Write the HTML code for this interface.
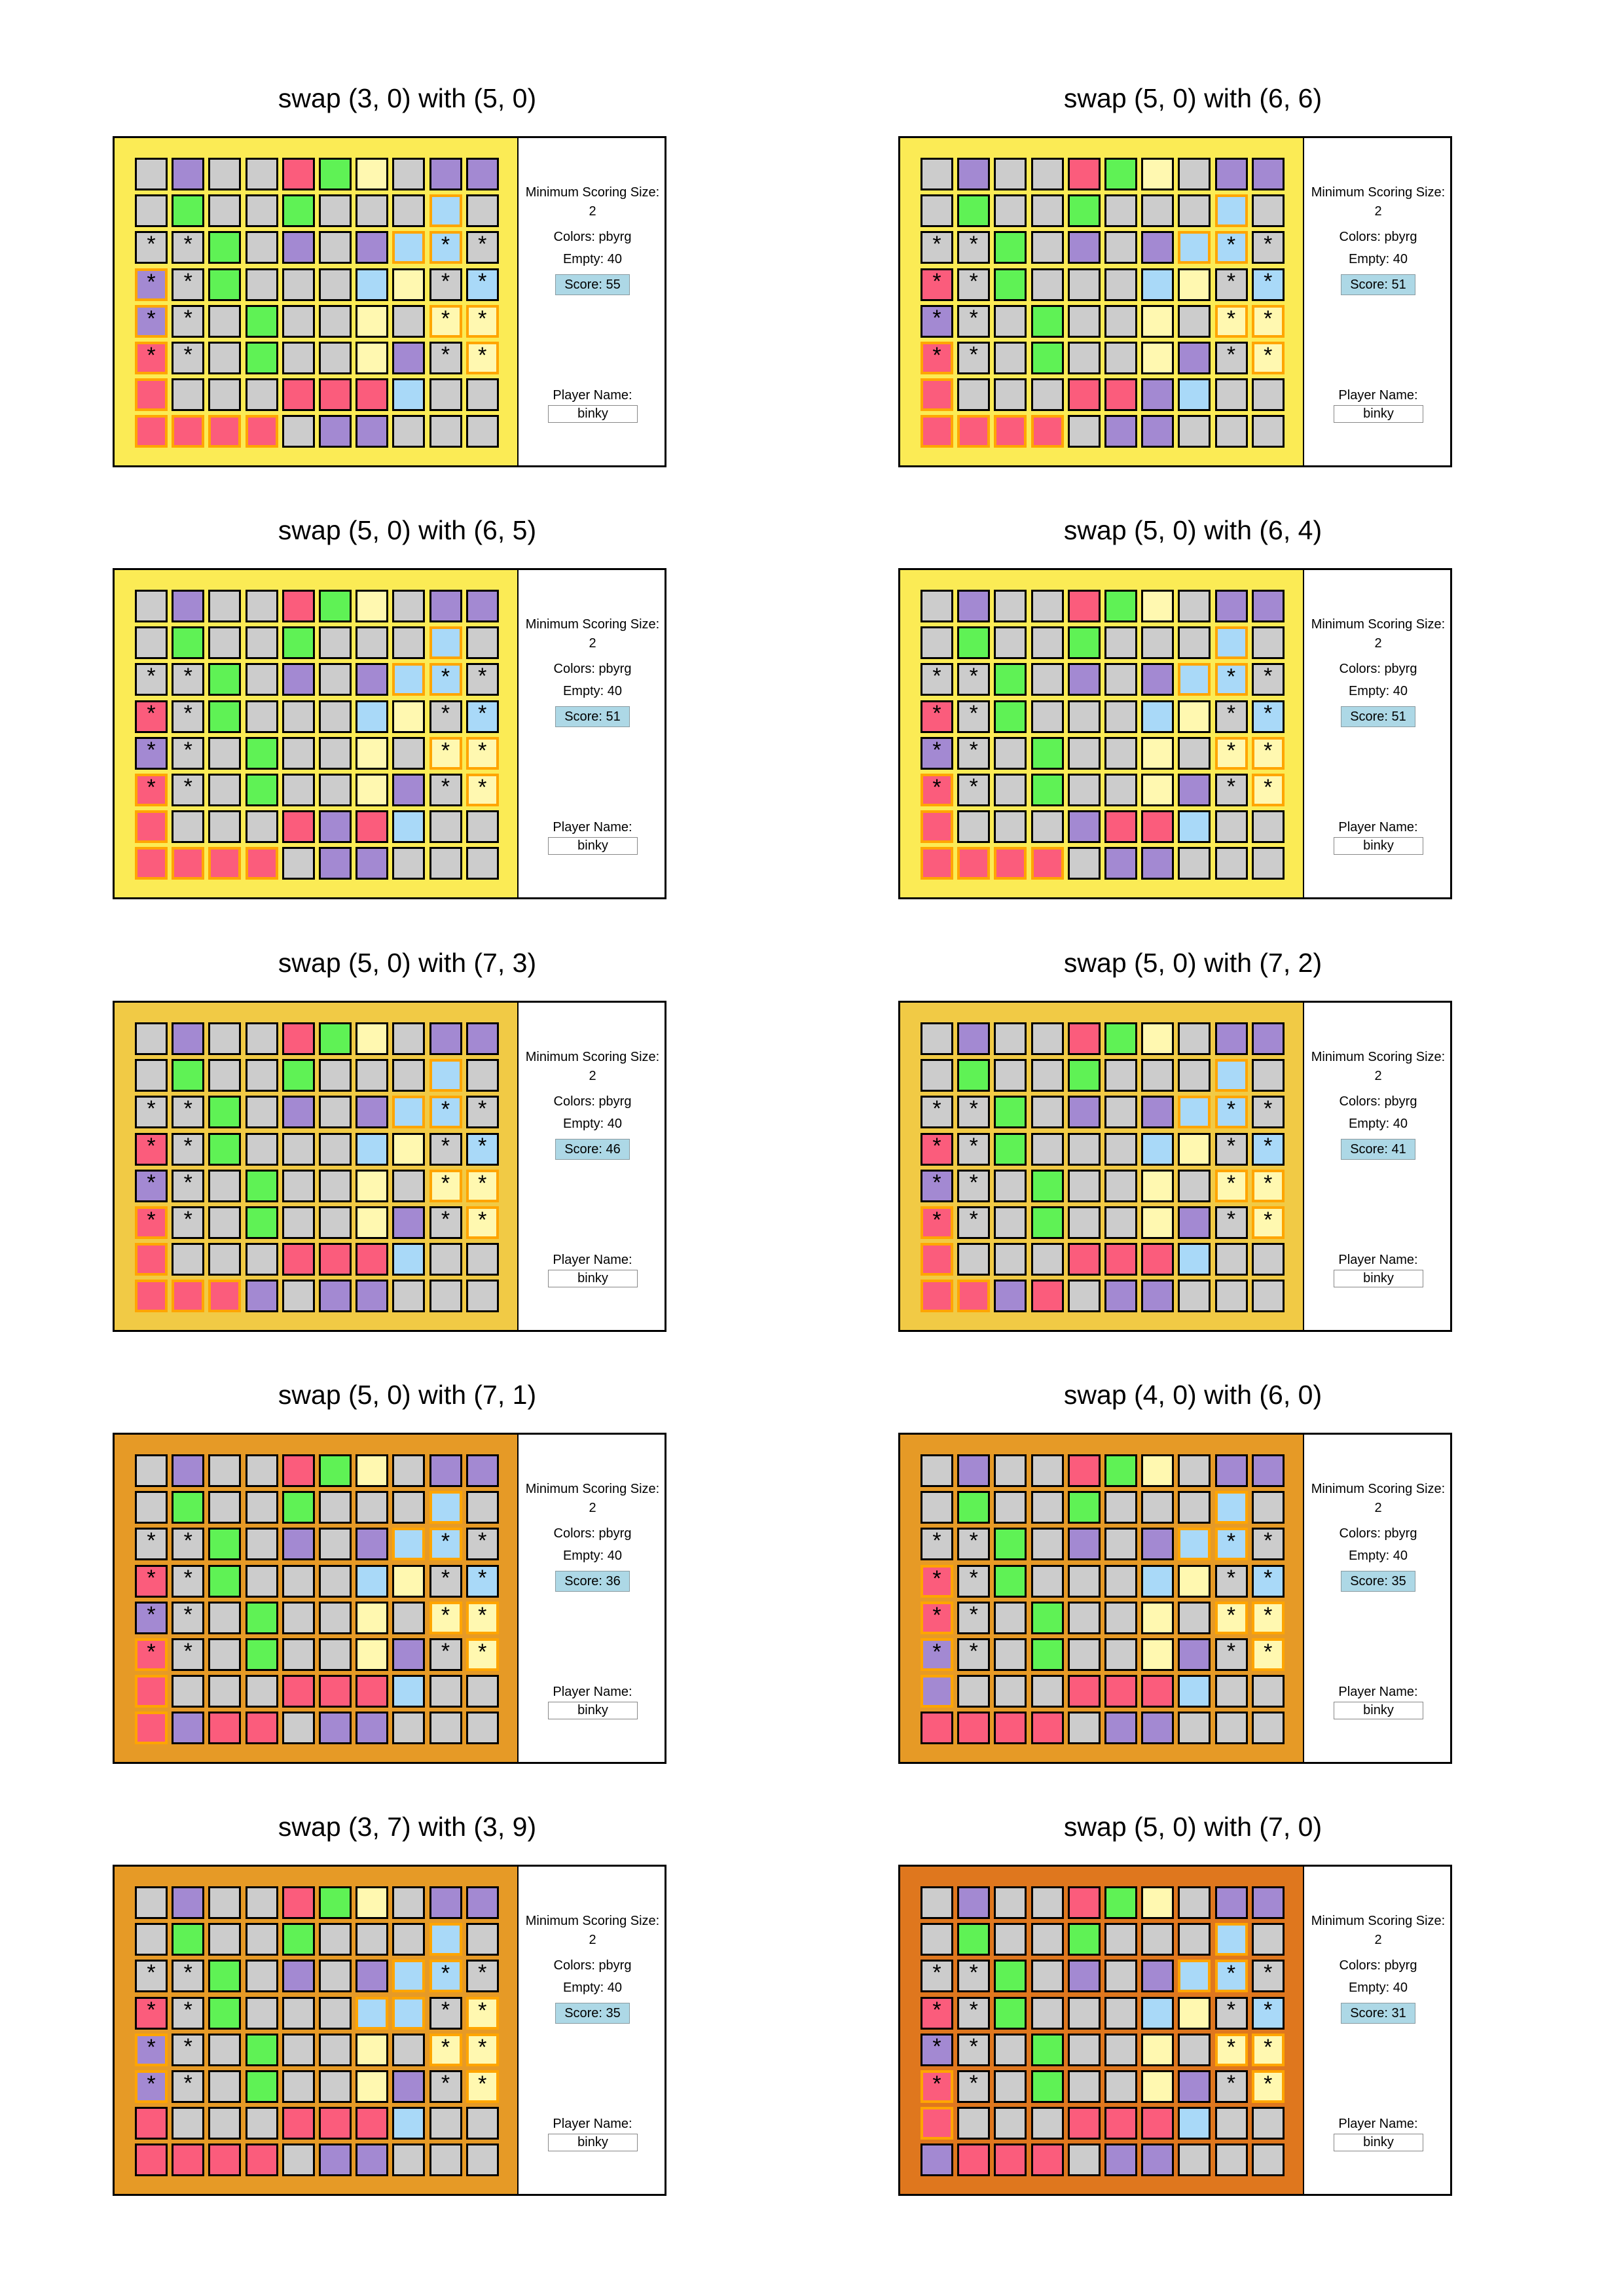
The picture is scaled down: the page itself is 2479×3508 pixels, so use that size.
<!DOCTYPE html>
<html><head><meta charset="utf-8"><style>
body{margin:0;background:#fff;width:2479px;height:3508px;position:relative;overflow:hidden;font-family:"Liberation Sans",Arial,sans-serif;}
.p{position:absolute;width:846px;height:506px;}
.t{position:absolute;left:250px;width:400px;top:-82px;text-align:center;font-size:41px;line-height:48px;color:#000;}
.f{position:absolute;left:0;top:0;width:840px;height:500px;border:3px solid #000;background:#fff;}
.bg{position:absolute;left:0;top:0;width:615px;height:500px;border-right:2px solid #000;}
.y1{background:#fbeb55}.y2{background:#f1ca45}.y3{background:#e69a26}.y4{background:#df771e}
.gr{position:absolute;left:31px;top:30px;display:grid;grid-template-columns:repeat(10,50px);grid-auto-rows:50px;gap:6.2px;}
.gr i{box-sizing:border-box;border:3.5px solid #000;font-style:normal;text-align:center;font-size:34px;line-height:34px;color:#000;}
.gr i.o{border-color:#ffa500;border-width:4px}
.g{background:#cccccc}.u{background:#a389d2}.r{background:#fb5c7c}.e{background:#5ff255}.w{background:#fff8b0}.b{background:#a9d9f8}
.s{position:absolute;left:617px;width:226px;text-align:center;font-size:20px;line-height:24px;}
.sc{position:absolute;left:673px;top:208px;width:112px;height:30px;background:#add8e6;border:1px solid #8a9aa0;text-align:center;font-size:20px;line-height:30px;}
.nm{position:absolute;left:662px;top:408px;width:135px;height:25px;background:#fff;border:1px solid #888;text-align:center;font-size:20px;line-height:25px;}
</style></head><body>

<!-- Panel 1 -->
<div class="p" style="left:172px;top:208px"><div class="t">swap (3, 0) with (5, 0)</div><div class="f"><div class="bg y1"></div>
<div class="gr">
<i class="g"></i><i class="u"></i><i class="g"></i><i class="g"></i><i class="r"></i><i class="e"></i><i class="w"></i><i class="g"></i><i class="u"></i><i class="u"></i>
<i class="g"></i><i class="e"></i><i class="g"></i><i class="g"></i><i class="e"></i><i class="g"></i><i class="g"></i><i class="g"></i><i class="b o"></i><i class="g"></i>
<i class="g">*</i><i class="g">*</i><i class="e"></i><i class="g"></i><i class="u"></i><i class="g"></i><i class="u"></i><i class="b o"></i><i class="b o">*</i><i class="g">*</i>
<i class="u o">*</i><i class="g">*</i><i class="e"></i><i class="g"></i><i class="g"></i><i class="g"></i><i class="b"></i><i class="w"></i><i class="g">*</i><i class="b">*</i>
<i class="u o">*</i><i class="g">*</i><i class="g"></i><i class="e"></i><i class="g"></i><i class="g"></i><i class="w"></i><i class="g"></i><i class="w o">*</i><i class="w o">*</i>
<i class="r o">*</i><i class="g">*</i><i class="g"></i><i class="e"></i><i class="g"></i><i class="g"></i><i class="w"></i><i class="u"></i><i class="g">*</i><i class="w o">*</i>
<i class="r o"></i><i class="g"></i><i class="g"></i><i class="g"></i><i class="r"></i><i class="r"></i><i class="r"></i><i class="b"></i><i class="g"></i><i class="g"></i>
<i class="r o"></i><i class="r o"></i><i class="r o"></i><i class="r o"></i><i class="g"></i><i class="u"></i><i class="u"></i><i class="g"></i><i class="g"></i><i class="g"></i>
</div>
<div class="s" style="top:71px">Minimum Scoring Size:</div><div class="s" style="top:100px">2</div><div class="s" style="top:139px">Colors: pbyrg</div><div class="s" style="top:173px">Empty: 40</div><div class="sc">Score: 55</div><div class="s" style="top:381px">Player Name:</div><div class="nm">binky</div>
</div></div>

<!-- Panel 2 -->
<div class="p" style="left:1372px;top:208px"><div class="t">swap (5, 0) with (6, 6)</div><div class="f"><div class="bg y1"></div>
<div class="gr">
<i class="g"></i><i class="u"></i><i class="g"></i><i class="g"></i><i class="r"></i><i class="e"></i><i class="w"></i><i class="g"></i><i class="u"></i><i class="u"></i>
<i class="g"></i><i class="e"></i><i class="g"></i><i class="g"></i><i class="e"></i><i class="g"></i><i class="g"></i><i class="g"></i><i class="b o"></i><i class="g"></i>
<i class="g">*</i><i class="g">*</i><i class="e"></i><i class="g"></i><i class="u"></i><i class="g"></i><i class="u"></i><i class="b o"></i><i class="b o">*</i><i class="g">*</i>
<i class="r">*</i><i class="g">*</i><i class="e"></i><i class="g"></i><i class="g"></i><i class="g"></i><i class="b"></i><i class="w"></i><i class="g">*</i><i class="b">*</i>
<i class="u">*</i><i class="g">*</i><i class="g"></i><i class="e"></i><i class="g"></i><i class="g"></i><i class="w"></i><i class="g"></i><i class="w o">*</i><i class="w o">*</i>
<i class="r o">*</i><i class="g">*</i><i class="g"></i><i class="e"></i><i class="g"></i><i class="g"></i><i class="w"></i><i class="u"></i><i class="g">*</i><i class="w o">*</i>
<i class="r o"></i><i class="g"></i><i class="g"></i><i class="g"></i><i class="r"></i><i class="r"></i><i class="u"></i><i class="b"></i><i class="g"></i><i class="g"></i>
<i class="r o"></i><i class="r o"></i><i class="r o"></i><i class="r o"></i><i class="g"></i><i class="u"></i><i class="u"></i><i class="g"></i><i class="g"></i><i class="g"></i>
</div>
<div class="s" style="top:71px">Minimum Scoring Size:</div><div class="s" style="top:100px">2</div><div class="s" style="top:139px">Colors: pbyrg</div><div class="s" style="top:173px">Empty: 40</div><div class="sc">Score: 51</div><div class="s" style="top:381px">Player Name:</div><div class="nm">binky</div>
</div></div>

<!-- Panel 3 -->
<div class="p" style="left:172px;top:868px"><div class="t">swap (5, 0) with (6, 5)</div><div class="f"><div class="bg y1"></div>
<div class="gr">
<i class="g"></i><i class="u"></i><i class="g"></i><i class="g"></i><i class="r"></i><i class="e"></i><i class="w"></i><i class="g"></i><i class="u"></i><i class="u"></i>
<i class="g"></i><i class="e"></i><i class="g"></i><i class="g"></i><i class="e"></i><i class="g"></i><i class="g"></i><i class="g"></i><i class="b o"></i><i class="g"></i>
<i class="g">*</i><i class="g">*</i><i class="e"></i><i class="g"></i><i class="u"></i><i class="g"></i><i class="u"></i><i class="b o"></i><i class="b o">*</i><i class="g">*</i>
<i class="r">*</i><i class="g">*</i><i class="e"></i><i class="g"></i><i class="g"></i><i class="g"></i><i class="b"></i><i class="w"></i><i class="g">*</i><i class="b">*</i>
<i class="u">*</i><i class="g">*</i><i class="g"></i><i class="e"></i><i class="g"></i><i class="g"></i><i class="w"></i><i class="g"></i><i class="w o">*</i><i class="w o">*</i>
<i class="r o">*</i><i class="g">*</i><i class="g"></i><i class="e"></i><i class="g"></i><i class="g"></i><i class="w"></i><i class="u"></i><i class="g">*</i><i class="w o">*</i>
<i class="r o"></i><i class="g"></i><i class="g"></i><i class="g"></i><i class="r"></i><i class="u"></i><i class="r"></i><i class="b"></i><i class="g"></i><i class="g"></i>
<i class="r o"></i><i class="r o"></i><i class="r o"></i><i class="r o"></i><i class="g"></i><i class="u"></i><i class="u"></i><i class="g"></i><i class="g"></i><i class="g"></i>
</div>
<div class="s" style="top:71px">Minimum Scoring Size:</div><div class="s" style="top:100px">2</div><div class="s" style="top:139px">Colors: pbyrg</div><div class="s" style="top:173px">Empty: 40</div><div class="sc">Score: 51</div><div class="s" style="top:381px">Player Name:</div><div class="nm">binky</div>
</div></div>

<!-- Panel 4 -->
<div class="p" style="left:1372px;top:868px"><div class="t">swap (5, 0) with (6, 4)</div><div class="f"><div class="bg y1"></div>
<div class="gr">
<i class="g"></i><i class="u"></i><i class="g"></i><i class="g"></i><i class="r"></i><i class="e"></i><i class="w"></i><i class="g"></i><i class="u"></i><i class="u"></i>
<i class="g"></i><i class="e"></i><i class="g"></i><i class="g"></i><i class="e"></i><i class="g"></i><i class="g"></i><i class="g"></i><i class="b o"></i><i class="g"></i>
<i class="g">*</i><i class="g">*</i><i class="e"></i><i class="g"></i><i class="u"></i><i class="g"></i><i class="u"></i><i class="b o"></i><i class="b o">*</i><i class="g">*</i>
<i class="r">*</i><i class="g">*</i><i class="e"></i><i class="g"></i><i class="g"></i><i class="g"></i><i class="b"></i><i class="w"></i><i class="g">*</i><i class="b">*</i>
<i class="u">*</i><i class="g">*</i><i class="g"></i><i class="e"></i><i class="g"></i><i class="g"></i><i class="w"></i><i class="g"></i><i class="w o">*</i><i class="w o">*</i>
<i class="r o">*</i><i class="g">*</i><i class="g"></i><i class="e"></i><i class="g"></i><i class="g"></i><i class="w"></i><i class="u"></i><i class="g">*</i><i class="w o">*</i>
<i class="r o"></i><i class="g"></i><i class="g"></i><i class="g"></i><i class="u"></i><i class="r"></i><i class="r"></i><i class="b"></i><i class="g"></i><i class="g"></i>
<i class="r o"></i><i class="r o"></i><i class="r o"></i><i class="r o"></i><i class="g"></i><i class="u"></i><i class="u"></i><i class="g"></i><i class="g"></i><i class="g"></i>
</div>
<div class="s" style="top:71px">Minimum Scoring Size:</div><div class="s" style="top:100px">2</div><div class="s" style="top:139px">Colors: pbyrg</div><div class="s" style="top:173px">Empty: 40</div><div class="sc">Score: 51</div><div class="s" style="top:381px">Player Name:</div><div class="nm">binky</div>
</div></div>

<!-- Panel 5 -->
<div class="p" style="left:172px;top:1529px"><div class="t">swap (5, 0) with (7, 3)</div><div class="f"><div class="bg y2"></div>
<div class="gr">
<i class="g"></i><i class="u"></i><i class="g"></i><i class="g"></i><i class="r"></i><i class="e"></i><i class="w"></i><i class="g"></i><i class="u"></i><i class="u"></i>
<i class="g"></i><i class="e"></i><i class="g"></i><i class="g"></i><i class="e"></i><i class="g"></i><i class="g"></i><i class="g"></i><i class="b o"></i><i class="g"></i>
<i class="g">*</i><i class="g">*</i><i class="e"></i><i class="g"></i><i class="u"></i><i class="g"></i><i class="u"></i><i class="b o"></i><i class="b o">*</i><i class="g">*</i>
<i class="r">*</i><i class="g">*</i><i class="e"></i><i class="g"></i><i class="g"></i><i class="g"></i><i class="b"></i><i class="w"></i><i class="g">*</i><i class="b">*</i>
<i class="u">*</i><i class="g">*</i><i class="g"></i><i class="e"></i><i class="g"></i><i class="g"></i><i class="w"></i><i class="g"></i><i class="w o">*</i><i class="w o">*</i>
<i class="r o">*</i><i class="g">*</i><i class="g"></i><i class="e"></i><i class="g"></i><i class="g"></i><i class="w"></i><i class="u"></i><i class="g">*</i><i class="w o">*</i>
<i class="r o"></i><i class="g"></i><i class="g"></i><i class="g"></i><i class="r"></i><i class="r"></i><i class="r"></i><i class="b"></i><i class="g"></i><i class="g"></i>
<i class="r o"></i><i class="r o"></i><i class="r o"></i><i class="u"></i><i class="g"></i><i class="u"></i><i class="u"></i><i class="g"></i><i class="g"></i><i class="g"></i>
</div>
<div class="s" style="top:71px">Minimum Scoring Size:</div><div class="s" style="top:100px">2</div><div class="s" style="top:139px">Colors: pbyrg</div><div class="s" style="top:173px">Empty: 40</div><div class="sc">Score: 46</div><div class="s" style="top:381px">Player Name:</div><div class="nm">binky</div>
</div></div>

<!-- Panel 6 -->
<div class="p" style="left:1372px;top:1529px"><div class="t">swap (5, 0) with (7, 2)</div><div class="f"><div class="bg y2"></div>
<div class="gr">
<i class="g"></i><i class="u"></i><i class="g"></i><i class="g"></i><i class="r"></i><i class="e"></i><i class="w"></i><i class="g"></i><i class="u"></i><i class="u"></i>
<i class="g"></i><i class="e"></i><i class="g"></i><i class="g"></i><i class="e"></i><i class="g"></i><i class="g"></i><i class="g"></i><i class="b o"></i><i class="g"></i>
<i class="g">*</i><i class="g">*</i><i class="e"></i><i class="g"></i><i class="u"></i><i class="g"></i><i class="u"></i><i class="b o"></i><i class="b o">*</i><i class="g">*</i>
<i class="r">*</i><i class="g">*</i><i class="e"></i><i class="g"></i><i class="g"></i><i class="g"></i><i class="b"></i><i class="w"></i><i class="g">*</i><i class="b">*</i>
<i class="u">*</i><i class="g">*</i><i class="g"></i><i class="e"></i><i class="g"></i><i class="g"></i><i class="w"></i><i class="g"></i><i class="w o">*</i><i class="w o">*</i>
<i class="r o">*</i><i class="g">*</i><i class="g"></i><i class="e"></i><i class="g"></i><i class="g"></i><i class="w"></i><i class="u"></i><i class="g">*</i><i class="w o">*</i>
<i class="r o"></i><i class="g"></i><i class="g"></i><i class="g"></i><i class="r"></i><i class="r"></i><i class="r"></i><i class="b"></i><i class="g"></i><i class="g"></i>
<i class="r o"></i><i class="r o"></i><i class="u"></i><i class="r"></i><i class="g"></i><i class="u"></i><i class="u"></i><i class="g"></i><i class="g"></i><i class="g"></i>
</div>
<div class="s" style="top:71px">Minimum Scoring Size:</div><div class="s" style="top:100px">2</div><div class="s" style="top:139px">Colors: pbyrg</div><div class="s" style="top:173px">Empty: 40</div><div class="sc">Score: 41</div><div class="s" style="top:381px">Player Name:</div><div class="nm">binky</div>
</div></div>

<!-- Panel 7 -->
<div class="p" style="left:172px;top:2189px"><div class="t">swap (5, 0) with (7, 1)</div><div class="f"><div class="bg y3"></div>
<div class="gr">
<i class="g"></i><i class="u"></i><i class="g"></i><i class="g"></i><i class="r"></i><i class="e"></i><i class="w"></i><i class="g"></i><i class="u"></i><i class="u"></i>
<i class="g"></i><i class="e"></i><i class="g"></i><i class="g"></i><i class="e"></i><i class="g"></i><i class="g"></i><i class="g"></i><i class="b o"></i><i class="g"></i>
<i class="g">*</i><i class="g">*</i><i class="e"></i><i class="g"></i><i class="u"></i><i class="g"></i><i class="u"></i><i class="b o"></i><i class="b o">*</i><i class="g">*</i>
<i class="r">*</i><i class="g">*</i><i class="e"></i><i class="g"></i><i class="g"></i><i class="g"></i><i class="b"></i><i class="w"></i><i class="g">*</i><i class="b">*</i>
<i class="u">*</i><i class="g">*</i><i class="g"></i><i class="e"></i><i class="g"></i><i class="g"></i><i class="w"></i><i class="g"></i><i class="w o">*</i><i class="w o">*</i>
<i class="r o">*</i><i class="g">*</i><i class="g"></i><i class="e"></i><i class="g"></i><i class="g"></i><i class="w"></i><i class="u"></i><i class="g">*</i><i class="w o">*</i>
<i class="r o"></i><i class="g"></i><i class="g"></i><i class="g"></i><i class="r"></i><i class="r"></i><i class="r"></i><i class="b"></i><i class="g"></i><i class="g"></i>
<i class="r o"></i><i class="u"></i><i class="r"></i><i class="r"></i><i class="g"></i><i class="u"></i><i class="u"></i><i class="g"></i><i class="g"></i><i class="g"></i>
</div>
<div class="s" style="top:71px">Minimum Scoring Size:</div><div class="s" style="top:100px">2</div><div class="s" style="top:139px">Colors: pbyrg</div><div class="s" style="top:173px">Empty: 40</div><div class="sc">Score: 36</div><div class="s" style="top:381px">Player Name:</div><div class="nm">binky</div>
</div></div>

<!-- Panel 8 -->
<div class="p" style="left:1372px;top:2189px"><div class="t">swap (4, 0) with (6, 0)</div><div class="f"><div class="bg y3"></div>
<div class="gr">
<i class="g"></i><i class="u"></i><i class="g"></i><i class="g"></i><i class="r"></i><i class="e"></i><i class="w"></i><i class="g"></i><i class="u"></i><i class="u"></i>
<i class="g"></i><i class="e"></i><i class="g"></i><i class="g"></i><i class="e"></i><i class="g"></i><i class="g"></i><i class="g"></i><i class="b o"></i><i class="g"></i>
<i class="g">*</i><i class="g">*</i><i class="e"></i><i class="g"></i><i class="u"></i><i class="g"></i><i class="u"></i><i class="b o"></i><i class="b o">*</i><i class="g">*</i>
<i class="r o">*</i><i class="g">*</i><i class="e"></i><i class="g"></i><i class="g"></i><i class="g"></i><i class="b"></i><i class="w"></i><i class="g">*</i><i class="b">*</i>
<i class="r o">*</i><i class="g">*</i><i class="g"></i><i class="e"></i><i class="g"></i><i class="g"></i><i class="w"></i><i class="g"></i><i class="w o">*</i><i class="w o">*</i>
<i class="u o">*</i><i class="g">*</i><i class="g"></i><i class="e"></i><i class="g"></i><i class="g"></i><i class="w"></i><i class="u"></i><i class="g">*</i><i class="w o">*</i>
<i class="u o"></i><i class="g"></i><i class="g"></i><i class="g"></i><i class="r"></i><i class="r"></i><i class="r"></i><i class="b"></i><i class="g"></i><i class="g"></i>
<i class="r"></i><i class="r"></i><i class="r"></i><i class="r"></i><i class="g"></i><i class="u"></i><i class="u"></i><i class="g"></i><i class="g"></i><i class="g"></i>
</div>
<div class="s" style="top:71px">Minimum Scoring Size:</div><div class="s" style="top:100px">2</div><div class="s" style="top:139px">Colors: pbyrg</div><div class="s" style="top:173px">Empty: 40</div><div class="sc">Score: 35</div><div class="s" style="top:381px">Player Name:</div><div class="nm">binky</div>
</div></div>

<!-- Panel 9 -->
<div class="p" style="left:172px;top:2849px"><div class="t">swap (3, 7) with (3, 9)</div><div class="f"><div class="bg y3"></div>
<div class="gr">
<i class="g"></i><i class="u"></i><i class="g"></i><i class="g"></i><i class="r"></i><i class="e"></i><i class="w"></i><i class="g"></i><i class="u"></i><i class="u"></i>
<i class="g"></i><i class="e"></i><i class="g"></i><i class="g"></i><i class="e"></i><i class="g"></i><i class="g"></i><i class="g"></i><i class="b o"></i><i class="g"></i>
<i class="g">*</i><i class="g">*</i><i class="e"></i><i class="g"></i><i class="u"></i><i class="g"></i><i class="u"></i><i class="b o"></i><i class="b o">*</i><i class="g">*</i>
<i class="r">*</i><i class="g">*</i><i class="e"></i><i class="g"></i><i class="g"></i><i class="g"></i><i class="b o"></i><i class="b o"></i><i class="g">*</i><i class="w o">*</i>
<i class="u o">*</i><i class="g">*</i><i class="g"></i><i class="e"></i><i class="g"></i><i class="g"></i><i class="w"></i><i class="g"></i><i class="w o">*</i><i class="w o">*</i>
<i class="u o">*</i><i class="g">*</i><i class="g"></i><i class="e"></i><i class="g"></i><i class="g"></i><i class="w"></i><i class="u"></i><i class="g">*</i><i class="w o">*</i>
<i class="r"></i><i class="g"></i><i class="g"></i><i class="g"></i><i class="r"></i><i class="r"></i><i class="r"></i><i class="b"></i><i class="g"></i><i class="g"></i>
<i class="r"></i><i class="r"></i><i class="r"></i><i class="r"></i><i class="g"></i><i class="u"></i><i class="u"></i><i class="g"></i><i class="g"></i><i class="g"></i>
</div>
<div class="s" style="top:71px">Minimum Scoring Size:</div><div class="s" style="top:100px">2</div><div class="s" style="top:139px">Colors: pbyrg</div><div class="s" style="top:173px">Empty: 40</div><div class="sc">Score: 35</div><div class="s" style="top:381px">Player Name:</div><div class="nm">binky</div>
</div></div>

<!-- Panel 10 -->
<div class="p" style="left:1372px;top:2849px"><div class="t">swap (5, 0) with (7, 0)</div><div class="f"><div class="bg y4"></div>
<div class="gr">
<i class="g"></i><i class="u"></i><i class="g"></i><i class="g"></i><i class="r"></i><i class="e"></i><i class="w"></i><i class="g"></i><i class="u"></i><i class="u"></i>
<i class="g"></i><i class="e"></i><i class="g"></i><i class="g"></i><i class="e"></i><i class="g"></i><i class="g"></i><i class="g"></i><i class="b o"></i><i class="g"></i>
<i class="g">*</i><i class="g">*</i><i class="e"></i><i class="g"></i><i class="u"></i><i class="g"></i><i class="u"></i><i class="b o"></i><i class="b o">*</i><i class="g">*</i>
<i class="r">*</i><i class="g">*</i><i class="e"></i><i class="g"></i><i class="g"></i><i class="g"></i><i class="b"></i><i class="w"></i><i class="g">*</i><i class="b">*</i>
<i class="u">*</i><i class="g">*</i><i class="g"></i><i class="e"></i><i class="g"></i><i class="g"></i><i class="w"></i><i class="g"></i><i class="w o">*</i><i class="w o">*</i>
<i class="r o">*</i><i class="g">*</i><i class="g"></i><i class="e"></i><i class="g"></i><i class="g"></i><i class="w"></i><i class="u"></i><i class="g">*</i><i class="w o">*</i>
<i class="r o"></i><i class="g"></i><i class="g"></i><i class="g"></i><i class="r"></i><i class="r"></i><i class="r"></i><i class="b"></i><i class="g"></i><i class="g"></i>
<i class="u"></i><i class="r"></i><i class="r"></i><i class="r"></i><i class="g"></i><i class="u"></i><i class="u"></i><i class="g"></i><i class="g"></i><i class="g"></i>
</div>
<div class="s" style="top:71px">Minimum Scoring Size:</div><div class="s" style="top:100px">2</div><div class="s" style="top:139px">Colors: pbyrg</div><div class="s" style="top:173px">Empty: 40</div><div class="sc">Score: 31</div><div class="s" style="top:381px">Player Name:</div><div class="nm">binky</div>
</div></div>

</body></html>
